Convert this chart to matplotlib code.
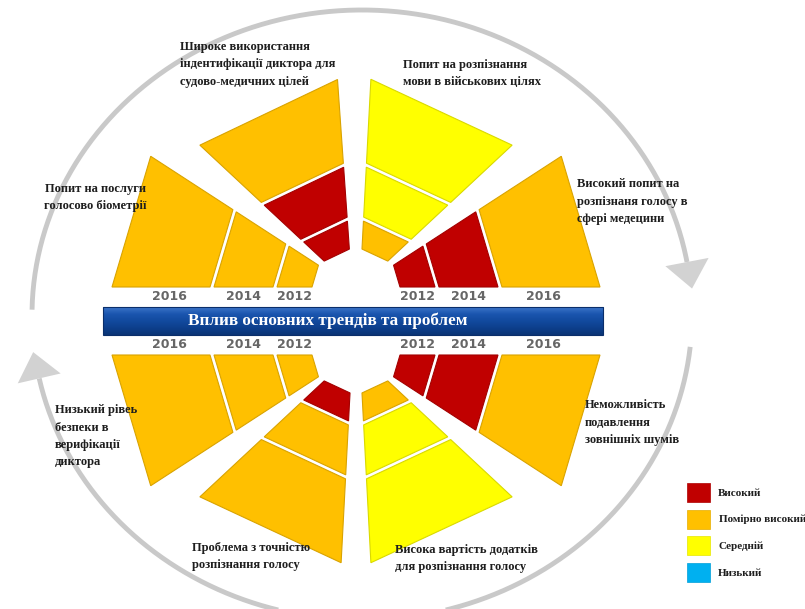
import numpy as np
import matplotlib
matplotlib.use("Agg")
import matplotlib.pyplot as plt
from matplotlib.patches import Polygon, Rectangle
from matplotlib.colors import to_rgb

# --- data ---
trends = [
    "Широке використання\nіндентифікації диктора для\nсудово-медичних цілей",
    "Попит на розпізнання\nмови в військових цілях",
    "Високий попит на\nрозпізнаня голосу в\nсфері медецини",
    "Неможливість\nподавлення\nзовнішніх шумів",
    "Висока вартість додатків\nдля розпізнання голосу",
    "Проблема з точністю\nрозпізнання голосу",
    "Низький рівеь\nбезпеки в\nверифікації\nдиктора",
    "Попит на послуги\nголосово біометрії",
]
years = ["2012", "2014", "2016"]
# 0 = Високий, 1 = Помірно високий, 2 = Середній, 3 = Низький
level_2012 = [0, 1, 0, 0, 1, 0, 1, 1]
level_2014 = [0, 2, 0, 0, 2, 1, 1, 1]
level_2016 = [1, 2, 1, 1, 2, 1, 1, 1]
level_names = ["Високий", "Помірно високий", "Середній", "Низький"]
level_colors = ["#C00000", "#FFC000", "#FFFF00", "#00B0F0"]
title = "Вплив основних трендів та проблем"

# --- layout (pixel space) ---
centers = [(352, 287), (360, 287), (360, 287), (360, 355),
           (360, 355), (352, 355), (352, 355), (352, 287)]
angles = [(94, 137), (43, 87), (0, 33), (-33, 0),
          (-87, -43), (-137, -93), (-180, -147), (147, 180)]
kind = ["v", "v", "h", "h", "v", "v", "h", "h"]
radii = {"h": [(40, 75), (79, 138), (142, 240)],
         "v": [(38, 66), (70, 120), (124, 208)]}
# x, y of the first text line, alignment
label_pos = [(180, 47, "left"), (403, 65, "left"), (577, 184, "left"),
             (585, 405, "left"), (395, 550, "left"), (192, 548, "left"),
             (55, 410, "left"), (95, 189, "center")]
line_step = 17.5

fig = plt.figure(figsize=(8.05, 6.09), dpi=100)
ax = fig.add_axes([0, 0, 1, 1])
ax.set_xlim(0, 805)
ax.set_ylim(609, 0)
ax.axis("off")

serif = ["Liberation Serif", "DejaVu Serif"]


def darker(c, f=0.85):
    r, g, b = to_rgb(c)
    return (r * f, g * f, b * f)


def pt(cx, cy, r, a):
    t = np.radians(a)
    return (cx + r * np.cos(t), cy - r * np.sin(t))


# circular arrows
ecx, ecy, erx, ery = 362, 315, 330, 305
for t0, t1 in [(179, 10), (-6, -168)]:
    t = np.radians(np.linspace(t0, t1, 200))
    ax.plot(ecx + erx * np.cos(t), ecy - ery * np.sin(t), color="#C9C9C9",
            lw=3.5, solid_capstyle="butt", zorder=1)
    te = np.radians(t1)
    p = np.array([ecx + erx * np.cos(te), ecy - ery * np.sin(te)])
    d = np.array([erx * np.sin(te), ery * np.cos(te)])
    d = d / np.linalg.norm(d)
    n = np.array([-d[1], d[0]])
    tri = [p + 22 * n, p - 22 * n, p + 27 * d]
    ax.add_patch(Polygon(tri, closed=True, fc="#D2D2D2", ec="none", zorder=1))

# sectors
levels = [level_2012, level_2014, level_2016]
for i in range(len(trends)):
    cx, cy = centers[i]
    a0, a1 = angles[i]
    for j in range(len(years)):
        r0, r1 = radii[kind[i]][j]
        col = level_colors[levels[j][i]]
        poly = [pt(cx, cy, r0, a0), pt(cx, cy, r1, a0),
                pt(cx, cy, r1, a1), pt(cx, cy, r0, a1)]
        ax.add_patch(Polygon(poly, closed=True, fc=col, ec=darker(col),
                             lw=0.8, zorder=3))
    x, y, ha = label_pos[i]
    nlines = trends[i].count("\n") + 1
    ax.text(x, y + (nlines - 1) * line_step / 2, trends[i], ha=ha,
            va="center", fontsize=9, fontweight="bold", family=serif,
            color="#1E1E1E", linespacing=1.6, multialignment=ha, zorder=5)

# year labels along the horizontal sectors
for i in range(len(trends)):
    if kind[i] != "h":
        continue
    cx, cy = centers[i]
    a0, a1 = angles[i]
    side = 1 if abs(a0) < 90 else -1
    ylab = 296 if cy < 320 else 345
    for j in range(len(years)):
        r0, r1 = radii["h"][j]
        xm = cx + side * ((r0 + r1) / 2 + (8 if j == 2 else 0) * -1)
        ax.text(xm, ylab, years[j], ha="center", va="center", fontsize=9,
                fontweight="bold", color="#666666", family="DejaVu Sans",
                zorder=5)

# banner
stops = np.array([to_rgb(c) for c in
                  ["#3C74C8", "#1A55AE", "#124A9E", "#0D3F8C", "#0A3475"]])
g = np.linspace(0, len(stops) - 1, 60)
img = np.stack([np.interp(g, np.arange(len(stops)), stops[:, c])
                for c in range(3)], axis=-1)[:, None, :]
ax.imshow(img, extent=(103, 603, 335, 307), aspect="auto", zorder=4)
ax.add_patch(Rectangle((103, 307), 500, 28, fc="none", ec="#0A2E6A",
                       lw=0.8, zorder=4))
ax.text(328, 321, title, ha="center", va="center", fontsize=12.3,
        fontweight="bold", family=serif, color="white", zorder=5)

# legend
for k, name in enumerate(level_names):
    y0 = 483 + k * 26.7
    ax.add_patch(Rectangle((687, y0), 23, 19, fc=level_colors[k],
                           ec=darker(level_colors[k], 0.9), lw=0.5, zorder=5))
    ax.text(718 + (1 if k == 1 else 0), y0 + 10, name, ha="left",
            va="center", fontsize=8, fontweight="bold", family=serif,
            color="#1E1E1E", zorder=5)

fig.savefig("out.png", dpi=100, facecolor="white")
